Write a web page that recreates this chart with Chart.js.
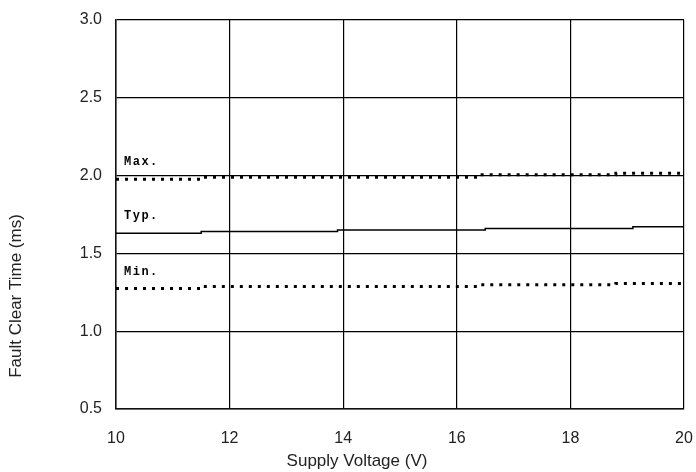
<!DOCTYPE html>
<html>
<head>
<meta charset="utf-8">
<script src="https://cdn.jsdelivr.net/npm/chart.js@4"></script>
<style>
  html, body { margin: 0; padding: 0; background: #fff; }
  #wrap { width: 696px; height: 472px; }
</style>
</head>
<body>
<div id="wrap"><canvas id="c" width="696" height="472"></canvas></div>
<script>
// supply voltage (V) where each curve steps, and fault clear time (ms) there
const maxVolts = [10, 11.5, 16.4, 18.8, 20];
const maxTimes = [1.977, 1.99, 2.005, 2.015, 2.015];
const typVolts = [10, 11.5, 13.9, 16.5, 19.1, 20];
const typTimes = [1.63, 1.64, 1.65, 1.66, 1.672, 1.672];
const minVolts = [10, 11.5, 16.4, 18.8, 20];
const minTimes = [1.274, 1.288, 1.298, 1.307, 1.307];
const seriesNames = ["Max.", "Typ.", "Min."];
const xTicks = [10, 12, 14, 16, 18, 20];
const yTicks = [0.5, 1.0, 1.5, 2.0, 2.5, 3.0];
const xTitle = "Supply Voltage (V)";
const yTitle = "Fault Clear Time (ms)";

const pts = (xs, ys) => xs.map((x, i) => ({ x: x, y: ys[i] }));
const sans = "'Liberation Sans', Arial, sans-serif";

const curveLabels = {
  id: "curveLabels",
  afterDatasetsDraw(chart) {
    const { ctx, chartArea, scales } = chart;
    ctx.save();
    ctx.fillStyle = "#000";
    ctx.font = "bold 12px 'Liberation Mono', 'DejaVu Sans Mono', monospace";
    ctx.letterSpacing = "1.5px";
    ctx.textBaseline = "middle";
    chart.data.datasets.forEach((ds, i) => {
      const y = scales.y.getPixelForValue(ds.data[0].y);
      ctx.fillText(seriesNames[i], chartArea.left + 8, y - 17);
    });
    ctx.restore();
    // axis titles sit off-centre in the original, so draw them by hand
    ctx.save();
    ctx.fillStyle = "#222";
    ctx.font = "17px " + sans;
    ctx.textAlign = "center";
    ctx.textBaseline = "middle";
    ctx.fillText(xTitle, 357, 461);
    ctx.translate(16, 296);
    ctx.rotate(-Math.PI / 2);
    ctx.fillText(yTitle, 0, 0);
    ctx.restore();
  },
};

const dotted = { borderColor: "#000", borderWidth: 3, borderDash: [3, 6], borderCapStyle: "butt" };
const noSidePad = s => { s.paddingLeft = 0; s.paddingRight = 0; };

new Chart(document.getElementById("c").getContext("2d"), {
  type: "line",
  data: {
    datasets: [
      { label: seriesNames[0], data: pts(maxVolts, maxTimes), ...dotted },
      { label: seriesNames[1], data: pts(typVolts, typTimes), borderColor: "#000", borderWidth: 1.5 },
      { label: seriesNames[2], data: pts(minVolts, minTimes), ...dotted },
    ],
  },
  options: {
    responsive: false,
    animation: false,
    layout: { padding: { left: 0, right: 12, top: 20, bottom: 0 } },
    elements: { point: { radius: 0 }, line: { stepped: true, tension: 0 } },
    plugins: { legend: { display: false }, tooltip: { enabled: false } },
    scales: {
      x: {
        type: "linear",
        min: 10,
        max: 20,
        afterBuildTicks: s => { s.ticks = xTicks.map(v => ({ value: v })); },
        afterFit: s => { s.height = 63; noSidePad(s); },
        ticks: { color: "#222", font: { family: sans, size: 16 }, padding: 20, maxRotation: 0 },
        grid: { color: "#000", lineWidth: 1.2, drawTicks: false },
        border: { color: "#111", width: 1.5 },
      },
      y: {
        type: "linear",
        min: 0.5,
        max: 3.0,
        afterBuildTicks: s => { s.ticks = yTicks.map(v => ({ value: v })); },
        afterFit: s => { s.width = 116; s.paddingTop = 0; s.paddingBottom = 0; },
        ticks: { color: "#222", font: { family: sans, size: 16 }, padding: 14, callback: v => v.toFixed(1) },
        grid: { color: "#000", lineWidth: 1.2, drawTicks: false },
        border: { color: "#111", width: 1.5 },
      },
    },
  },
  plugins: [curveLabels],
});
</script>
</body>
</html>
